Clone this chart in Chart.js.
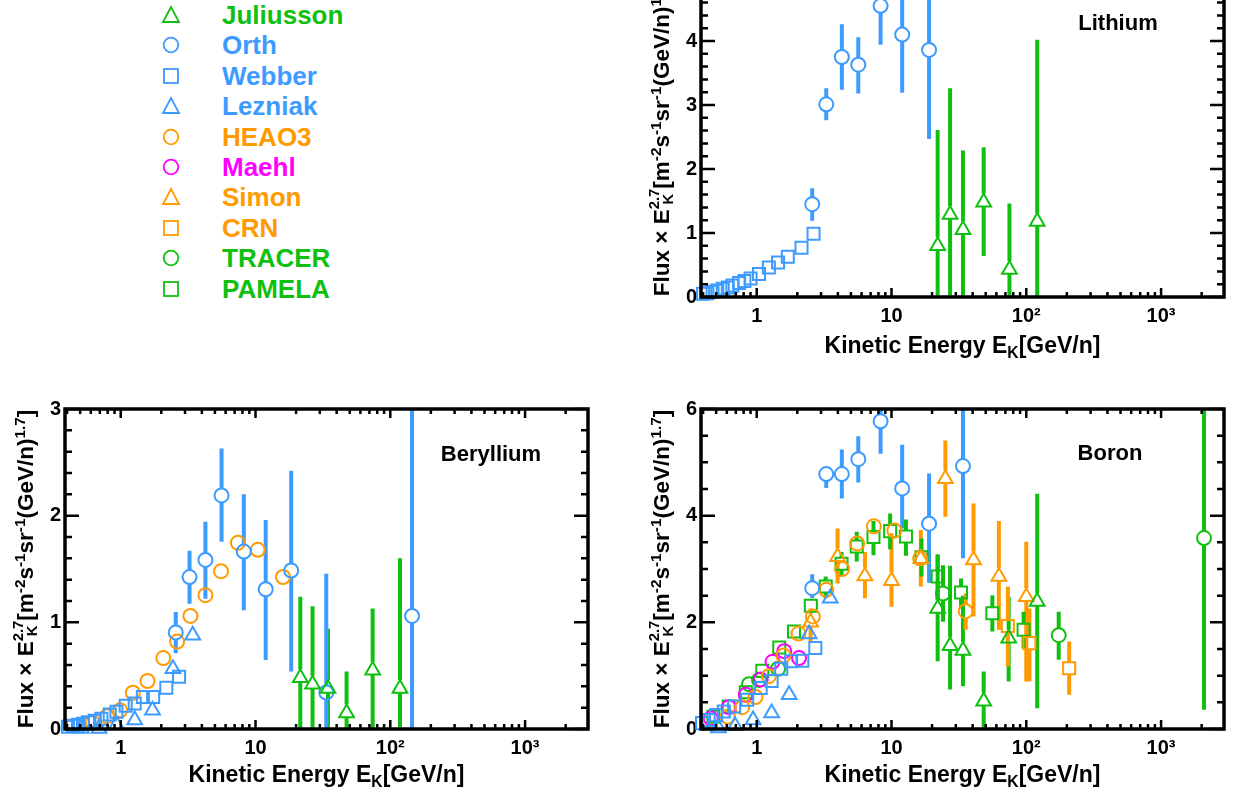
<!DOCTYPE html>
<html>
<head>
<meta charset="utf-8">
<script src="https://cdn.jsdelivr.net/npm/chart.js@4.4.1/dist/chart.umd.min.js"></script>
<style>
  body { margin: 0; background: #fff; }
  #page { position: relative; width: 1242px; height: 801px; overflow: hidden;
          font-family: "Liberation Sans", Arial, sans-serif; font-weight: bold; color: #000; }
  canvas { position: absolute; }
  .xt { position: absolute; text-align: center; font-size: 23px; line-height: 23px; white-space: nowrap; }
  .yt { position: absolute; left: 0; top: 0; width: 400px; text-align: center; font-size: 22.5px;
        line-height: 23px; white-space: nowrap; transform-origin: 0 0; }
  .pl { position: absolute; width: 200px; text-align: center; font-size: 22px; line-height: 22px; }
  sub { font-size: 0.68em; vertical-align: -0.3em; line-height: 0; }
  sup { font-size: 0.68em; vertical-align: 0.55em; line-height: 0; }
  .ss { display: inline-flex; flex-direction: column; font-size: 0.66em; line-height: 0.95em; vertical-align: 0.68em; }
  .leg { position: absolute; left: 222px; height: 30px; line-height: 30px; font-size: 26px; white-space: nowrap; }
  .mk { position: absolute; left: 161px; width: 20px; height: 20px; }
</style>
</head>
<body>
<div id="page">
  <canvas id="li"></canvas>
  <canvas id="be"></canvas>
  <canvas id="bo"></canvas>

  <div class="pl" style="left:1018px; top:12px">Lithium</div>
  <div class="pl" style="left:391px; top:443px">Beryllium</div>
  <div class="pl" style="left:1010px; top:442px">Boron</div>

  <div class="xt" style="left:701px; width:523px; top:334px">Kinetic Energy E<sub>K</sub>[GeV/n]</div>
  <div class="xt" style="left:65px; width:523px; top:763px">Kinetic Energy E<sub>K</sub>[GeV/n]</div>
  <div class="xt" style="left:701px; width:523px; top:763px">Kinetic Energy E<sub>K</sub>[GeV/n]</div>

  <div class="yt" style="transform: translate(647px, 337px) rotate(-90deg)">Flux &#215; E<span class="ss"><span>2.7</span><span>K</span></span>[m<sup>-2</sup>s<sup>-1</sup>sr<sup>-1</sup>(GeV/n)<sup>1.7</sup>]</div>
  <div class="yt" style="transform: translate(11px, 769px) rotate(-90deg)">Flux &#215; E<span class="ss"><span>2.7</span><span>K</span></span>[m<sup>-2</sup>s<sup>-1</sup>sr<sup>-1</sup>(GeV/n)<sup>1.7</sup>]</div>
  <div class="yt" style="transform: translate(647px, 769px) rotate(-90deg)">Flux &#215; E<span class="ss"><span>2.7</span><span>K</span></span>[m<sup>-2</sup>s<sup>-1</sup>sr<sup>-1</sup>(GeV/n)<sup>1.7</sup>]</div>
</div>

<script>
const green = '#10c010', blue = '#3d9bff', orange = '#ff9a00', magenta = '#ff00ff';

const legendNames  = ['Juliusson', 'Orth', 'Webber', 'Lezniak', 'HEAO3', 'Maehl', 'Simon', 'CRN', 'TRACER', 'PAMELA'];
const legendColors = [green, blue, blue, blue, orange, magenta, orange, orange, green, green];
const legendShapes = ['triangle', 'circle', 'rect', 'triangle', 'circle', 'circle', 'triangle', 'rect', 'circle', 'rect'];

const xMin = 0.386, xMax = 2930;
const xTickLabels = ['1', '10', '10\u00b2', '10\u00b3'];

// Lithium
const liWebberE = [0.40, 0.43, 0.47, 0.51, 0.56, 0.61, 0.66, 0.74, 0.81, 0.90, 1.04, 1.23, 1.44, 1.70, 2.15, 2.64];
const liWebberV = [0.05, 0.06, 0.08, 0.10, 0.13, 0.15, 0.18, 0.22, 0.25, 0.29, 0.36, 0.46, 0.54, 0.63, 0.77, 0.99];
const liOrthE  = [2.58, 3.28, 4.28, 5.67, 8.3, 12.0, 19.0];
const liOrthV  = [1.45, 3.01, 3.75, 3.63, 4.55, 4.10, 3.86];
const liOrthLo = [1.19, 2.76, 3.24, 3.18, 3.94, 3.19, 2.47];
const liOrthHi = [1.70, 3.26, 4.26, 4.06, 5.10, 5.30, 5.60];
const liJuliussonE  = [22.0, 27.2, 33.9, 48.3, 75, 120.5];
const liJuliussonV  = [0.80, 1.29, 1.05, 1.48, 0.43, 1.18];
const liJuliussonLo = [0, 0, 0, 0.64, 0, 0];
const liJuliussonHi = [2.61, 3.26, 2.29, 2.34, 1.46, 4.02];

// Beryllium
const beOrthE  = [2.56, 3.24, 4.25, 5.6, 8.19, 11.9, 18.4, 33.5, 145];
const beOrthV  = [0.905, 1.424, 1.585, 2.19, 1.663, 1.31, 1.486, 0.342, 1.06];
const beOrthLo = [0.709, 1.175, 1.222, 1.756, 1.113, 0.647, 0.54, 0, 0];
const beOrthHi = [1.097, 1.672, 1.943, 2.63, 2.2, 1.96, 2.42, 1.455, 3.2];
const beWebberE = [0.406, 0.443, 0.482, 0.525, 0.571, 0.641, 0.719, 0.829, 0.929, 1.089, 1.27, 1.46, 1.74, 2.18, 2.71];
const beWebberV = [0.022, 0.031, 0.04, 0.05, 0.063, 0.078, 0.097, 0.137, 0.162, 0.219, 0.24, 0.30, 0.30, 0.387, 0.49];
const beLezniakE = [0.51, 0.69, 0.93, 1.27, 1.72, 2.44, 3.42];
const beLezniakV = [0.005, 0.005, 0.04, 0.085, 0.175, 0.565, 0.88];
const beHeaoE = [0.62, 0.79, 0.99, 1.23, 1.58, 2.07, 2.62, 3.29, 4.25, 5.55, 7.4, 10.4, 16.0];
const beHeaoV = [0.06, 0.12, 0.175, 0.34, 0.45, 0.665, 0.82, 1.06, 1.255, 1.48, 1.745, 1.68, 1.425];
const beJuliussonE  = [21.5, 26.5, 34.5, 47.4, 74, 118];
const beJuliussonV  = [0.48, 0.42, 0.38, 0.15, 0.55, 0.38];
const beJuliussonLo = [0, 0, 0, 0, 0, 0];
const beJuliussonHi = [1.24, 1.15, 0.94, 0.54, 1.13, 1.60];

// Boron
const bOrthE  = [2.58, 3.28, 4.28, 5.67, 8.3, 12.0, 19.0, 33.9];
const bOrthV  = [2.64, 4.78, 4.78, 5.06, 5.77, 4.51, 3.85, 4.93];
const bOrthLo = [2.45, 4.52, 4.32, 4.62, 5.16, 3.76, 2.74, 3.2];
const bOrthHi = [2.90, 4.87, 5.24, 5.49, 6.2, 5.33, 4.79, 6.2];
const bWebberE = [0.393, 0.44, 0.50, 0.57, 0.68, 0.85, 1.07, 1.29, 1.52, 1.80, 2.18, 2.72];
const bWebberV = [0.11, 0.17, 0.26, 0.33, 0.42, 0.55, 0.77, 0.90, 1.13, 1.27, 1.28, 1.52];
const bLezniakE = [0.52, 0.69, 0.94, 1.29, 1.74, 2.45, 3.51];
const bLezniakV = [0.02, 0.06, 0.17, 0.30, 0.64, 1.78, 2.45];
const bHeaoE  = [0.61, 0.78, 0.98, 1.23, 1.58, 2.04, 2.61, 3.28, 4.3, 5.56, 7.4, 10.5, 16.3, 35.5];
const bHeaoV  = [0.23, 0.41, 0.60, 0.99, 1.38, 1.79, 2.11, 2.61, 3.0, 3.48, 3.80, 3.72, 3.20, 2.21];
const bHeaoLo = [0.23, 0.41, 0.60, 0.99, 1.38, 1.79, 2.11, 2.61, 3.0, 3.48, 3.80, 3.72, 3.20, 1.86];
const bHeaoHi = [0.23, 0.41, 0.60, 0.99, 1.38, 1.79, 2.11, 2.61, 3.0, 3.48, 3.80, 3.72, 3.20, 2.54];
const bMaehlE = [0.456, 0.62, 0.83, 1.07, 1.31, 1.60, 2.06];
const bMaehlV = [0.20, 0.41, 0.64, 0.93, 1.26, 1.46, 1.33];
const bSimonE  = [2.51, 3.98, 6.35, 10.0, 16.5, 25.1, 40.6, 62.6, 100];
const bSimonV  = [2.0, 3.23, 2.87, 2.78, 3.19, 4.69, 3.17, 2.86, 2.48];
const bSimonLo = [1.64, 2.73, 2.45, 2.29, 2.67, 3.98, 2.11, 1.86, 0.89];
const bSimonHi = [2.26, 3.76, 3.32, 3.67, 3.73, 5.41, 4.23, 3.90, 3.51];
const bCrnE  = [73, 105.5, 208];
const bCrnV  = [1.93, 1.61, 1.14];
const bCrnLo = [1.17, 0.89, 0.64];
const bCrnHi = [2.67, 2.26, 1.64];
const bTracerE  = [0.877, 1.04, 1.44, 24.1, 174, 2083];
const bTracerV  = [0.84, 0.92, 1.13, 2.54, 1.76, 3.58];
const bTracerLo = [0.84, 0.92, 1.13, 2.01, 1.30, 0.36];
const bTracerHi = [0.84, 0.92, 1.13, 3.07, 2.20, 6.2];
const bPamelaE  = [0.477, 0.62, 0.83, 1.10, 1.47, 1.89, 2.52, 3.25, 4.26, 5.52, 7.35, 9.77, 12.8, 16.7, 22.0, 32.8, 56, 95.5];
const bPamelaV  = [0.23, 0.42, 0.69, 1.09, 1.53, 1.83, 2.31, 2.67, 3.10, 3.42, 3.60, 3.71, 3.61, 3.22, 2.86, 2.56, 2.17, 1.86];
const bPamelaLo = [0.22, 0.40, 0.66, 1.05, 1.48, 1.77, 2.20, 2.45, 2.86, 3.14, 3.26, 3.37, 3.25, 2.86, 2.42, 2.26, 1.83, 1.51];
const bPamelaHi = [0.24, 0.44, 0.72, 1.13, 1.58, 1.89, 2.42, 2.86, 3.32, 3.70, 3.90, 4.04, 3.93, 3.57, 3.27, 2.82, 2.51, 2.20];
const bJuliussonE  = [22.0, 27.2, 33.9, 48.3, 74, 120.5];
const bJuliussonV  = [2.26, 1.56, 1.47, 0.52, 1.70, 2.39];
const bJuliussonLo = [1.27, 0.74, 0.80, 0, 0.89, 0.39];
const bJuliussonHi = [3.27, 3.06, 2.50, 1.08, 2.48, 4.41];

Chart.defaults.font.family = '"Liberation Sans", Arial, sans-serif';

function series(name, E, V, lo, hi) {
  const i = legendNames.indexOf(name);
  const shape = legendShapes[i];
  return {
    label: name,
    data: E.map((e, k) => ({ x: e, y: V[k] })),
    lo: lo, hi: hi,
    pointStyle: shape,
    pointRadius: shape === 'circle' ? 7 : 8.5,
    pointBorderWidth: 2,
    borderColor: legendColors[i],
    backgroundColor: 'rgba(0,0,0,0)',
    showLine: false,
    clip: false
  };
}

// vertical error bars, stopped at the marker edge like ROOT does
const errorBars = {
  id: 'errorBars',
  beforeDatasetsDraw(chart) {
    const { ctx, chartArea: a, scales: { x, y } } = chart;
    ctx.save();
    ctx.beginPath();
    ctx.rect(a.left, a.top, a.right - a.left, a.bottom - a.top);
    ctx.clip();
    ctx.lineWidth = 4;
    chart.data.datasets.forEach(ds => {
      if (!ds.lo) return;
      const r = ds.pointRadius;
      const up = ds.pointStyle === 'rect' ? r * Math.SQRT1_2 : r;
      const down = ds.pointStyle === 'triangle' ? r / 2 : up;
      ctx.strokeStyle = ds.borderColor;
      ds.data.forEach((p, k) => {
        const px = x.getPixelForValue(p.x), py = y.getPixelForValue(p.y);
        const hi = y.getPixelForValue(ds.hi[k]), lo = y.getPixelForValue(ds.lo[k]);
        ctx.beginPath();
        if (hi < py - up) { ctx.moveTo(px, hi); ctx.lineTo(px, py - up); }
        if (lo > py + down) { ctx.moveTo(px, py + down); ctx.lineTo(px, lo); }
        ctx.stroke();
      });
    });
    ctx.restore();
  }
};

// thick frame with inward ticks on all four sides
function rootFrame(yMajor, yMinor) {
  return {
    id: 'rootFrame',
    afterDatasetsDraw(chart) {
      const { ctx, chartArea: a, scales: { x, y } } = chart;
      ctx.save();
      ctx.strokeStyle = '#000';
      ctx.lineWidth = 2.5;
      ctx.beginPath();
      for (let d = Math.floor(Math.log10(x.min)); d <= Math.ceil(Math.log10(x.max)); d++) {
        for (let m = 1; m < 10; m++) {
          const v = m * Math.pow(10, d);
          if (v < x.min || v > x.max) continue;
          const px = x.getPixelForValue(v);
          const len = m === 1 ? 9 : 5;
          ctx.moveTo(px, a.bottom); ctx.lineTo(px, a.bottom - len);
          ctx.moveTo(px, a.top); ctx.lineTo(px, a.top + len);
        }
      }
      const n = Math.round((y.max - y.min) / yMinor);
      for (let k = 0; k <= n; k++) {
        const v = y.min + k * yMinor;
        const py = y.getPixelForValue(v);
        const q = v / yMajor;
        const len = Math.abs(q - Math.round(q)) < 1e-6 ? 14 : 7;
        ctx.moveTo(a.left, py); ctx.lineTo(a.left + len, py);
        ctx.moveTo(a.right, py); ctx.lineTo(a.right - len, py);
      }
      ctx.stroke();
      ctx.lineWidth = 3.5;
      ctx.strokeRect(a.left, a.top, a.right - a.left, a.bottom - a.top);
      ctx.restore();
    }
  };
}

const tickFont = { size: 20, weight: 'bold' };

function panel(id, box, yMax, yStep, yMinor, datasets) {
  const cv = document.getElementById(id);
  cv.width = box.R - box.L + 80;
  cv.height = box.B - box.T + 70;
  cv.style.left = (box.L - 60) + 'px';
  cv.style.top = (box.T - 20) + 'px';
  new Chart(cv, {
    type: 'scatter',
    data: { datasets: datasets },
    options: {
      responsive: false,
      animation: false,
      devicePixelRatio: 1,
      layout: { padding: { left: 0, top: 20, right: 20, bottom: 0 } },
      plugins: { legend: { display: false }, tooltip: { enabled: false } },
      scales: {
        x: {
          type: 'logarithmic',
          min: xMin, max: xMax,
          grid: { display: false, drawTicks: false },
          border: { display: false },
          afterFit: s => { s.height = 50; },
          ticks: {
            autoSkip: false, maxRotation: 0, padding: 7,
            color: '#000', font: tickFont,
            callback: v => {
              const d = Math.round(Math.log10(v));
              return d >= 0 && Math.abs(v - Math.pow(10, d)) < 1e-6 * v ? xTickLabels[d] : '';
            }
          }
        },
        y: {
          min: 0, max: yMax,
          grid: { display: false, drawTicks: false },
          border: { display: false },
          afterFit: s => { s.width = 60; },
          ticks: { stepSize: yStep, padding: 4, color: '#000', font: tickFont }
        }
      }
    },
    plugins: [errorBars, rootFrame(yStep, yMinor)]
  });
}

panel('li', { L: 701, T: -23, R: 1224, B: 297 }, 5, 1, 0.2, [
  series('Juliusson', liJuliussonE, liJuliussonV, liJuliussonLo, liJuliussonHi),
  series('Orth', liOrthE, liOrthV, liOrthLo, liOrthHi),
  series('Webber', liWebberE, liWebberV)
]);

panel('be', { L: 65, T: 409, R: 588, B: 729 }, 3, 1, 0.2, [
  series('Juliusson', beJuliussonE, beJuliussonV, beJuliussonLo, beJuliussonHi),
  series('Orth', beOrthE, beOrthV, beOrthLo, beOrthHi),
  series('Webber', beWebberE, beWebberV),
  series('Lezniak', beLezniakE, beLezniakV),
  series('HEAO3', beHeaoE, beHeaoV)
]);

panel('bo', { L: 701, T: 409, R: 1224, B: 729 }, 6, 2, 0.5, [
  series('Juliusson', bJuliussonE, bJuliussonV, bJuliussonLo, bJuliussonHi),
  series('Orth', bOrthE, bOrthV, bOrthLo, bOrthHi),
  series('Webber', bWebberE, bWebberV),
  series('Lezniak', bLezniakE, bLezniakV),
  series('HEAO3', bHeaoE, bHeaoV, bHeaoLo, bHeaoHi),
  series('Maehl', bMaehlE, bMaehlV),
  series('Simon', bSimonE, bSimonV, bSimonLo, bSimonHi),
  series('CRN', bCrnE, bCrnV, bCrnLo, bCrnHi),
  series('TRACER', bTracerE, bTracerV, bTracerLo, bTracerHi),
  series('PAMELA', bPamelaE, bPamelaV, bPamelaLo, bPamelaHi)
]);

// legend block in the top-left corner
const page = document.getElementById('page');
const svgNS = 'http://www.w3.org/2000/svg';
legendNames.forEach((name, i) => {
  const cy = 15 + i * 30.4;
  const svg = document.createElementNS(svgNS, 'svg');
  svg.setAttribute('class', 'mk');
  svg.setAttribute('width', 20);
  svg.setAttribute('height', 20);
  svg.style.top = (cy - 10) + 'px';
  let shape;
  if (legendShapes[i] === 'circle') {
    shape = document.createElementNS(svgNS, 'circle');
    shape.setAttribute('cx', 10); shape.setAttribute('cy', 10); shape.setAttribute('r', 7.3);
  } else if (legendShapes[i] === 'rect') {
    shape = document.createElementNS(svgNS, 'rect');
    shape.setAttribute('x', 3); shape.setAttribute('y', 3);
    shape.setAttribute('width', 14); shape.setAttribute('height', 14);
  } else {
    shape = document.createElementNS(svgNS, 'polygon');
    shape.setAttribute('points', '10,2 2,17 18,17');
  }
  shape.setAttribute('fill', 'none');
  shape.setAttribute('stroke', legendColors[i]);
  shape.setAttribute('stroke-width', 1.8);
  svg.appendChild(shape);
  page.appendChild(svg);

  const t = document.createElement('div');
  t.className = 'leg';
  t.style.top = (cy - 15) + 'px';
  t.style.color = legendColors[i];
  t.textContent = name;
  page.appendChild(t);
});
</script>
</body>
</html>
